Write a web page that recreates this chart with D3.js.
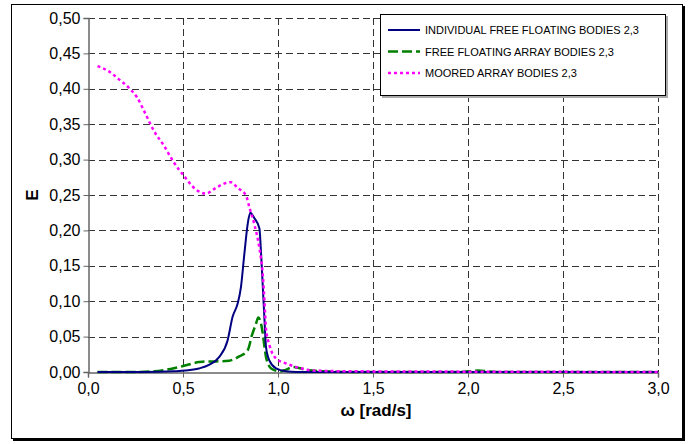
<!DOCTYPE html>
<html>
<head>
<meta charset="utf-8">
<script src="https://cdn.jsdelivr.net/npm/d3@7"></script>
<style>
  body { margin: 0; background: #fff; }
  svg { display: block; font-family: "Liberation Sans", Arial, sans-serif; }
</style>
</head>
<body>
<div id="chart"></div>
<script>
// valori
const xTicks = [0, 0.5, 1.0, 1.5, 2.0, 2.5, 3.0];
const yTicks = [0, 0.05, 0.10, 0.15, 0.20, 0.25, 0.30, 0.35, 0.40, 0.45, 0.50];

const individualW = [0.05, 0.3, 0.45, 0.513, 0.584, 0.637, 0.69, 0.735, 0.761, 0.788, 0.805, 0.823, 0.841, 0.854, 0.876, 0.902, 0.911, 0.92, 0.929, 0.937, 0.955, 0.99, 1.04, 1.1, 1.5, 2.0, 2.5, 3.0];
const individualE = [0, 0, 0.001, 0.002, 0.005, 0.01, 0.021, 0.045, 0.078, 0.097, 0.12, 0.167, 0.21, 0.225, 0.217, 0.203, 0.167, 0.12, 0.073, 0.035, 0.016, 0.005, 0.001, 0, 0, 0, 0, 0];

const arrayW = [0.05, 0.25, 0.35, 0.408, 0.496, 0.584, 0.62, 0.673, 0.743, 0.796, 0.841, 0.863, 0.884, 0.896, 0.911, 0.92, 0.929, 0.937, 0.964, 1.008, 1.04, 1.079, 1.15, 1.238, 1.4, 1.95, 2.05, 2.15, 3.0];
const arrayE = [0, 0, 0.001, 0.003, 0.008, 0.014, 0.015, 0.015, 0.016, 0.022, 0.031, 0.052, 0.068, 0.077, 0.068, 0.054, 0.035, 0.021, 0.005, 0.001, 0.003, 0.007, 0.003, 0.001, 0, 0, 0.002, 0, 0];

const mooredW = [0.05, 0.108, 0.16, 0.213, 0.258, 0.302, 0.346, 0.399, 0.452, 0.505, 0.567, 0.62, 0.673, 0.726, 0.752, 0.788, 0.832, 0.85, 0.876, 0.902, 0.92, 0.929, 0.937, 0.955, 0.99, 1.043, 1.114, 1.185, 1.4, 2.0, 3.0];
const mooredE = [0.432, 0.425, 0.414, 0.402, 0.388, 0.365, 0.341, 0.320, 0.296, 0.277, 0.258, 0.252, 0.260, 0.267, 0.268, 0.260, 0.249, 0.232, 0.208, 0.175, 0.137, 0.099, 0.061, 0.038, 0.019, 0.012, 0.0057, 0.002, 0.001, 0.0005, 0];

const seriesNames = ["INDIVIDUAL FREE FLOATING BODIES 2,3", "FREE FLOATING ARRAY BODIES 2,3", "MOORED ARRAY BODIES 2,3"];

const WIDTH = 691, HEIGHT = 444;
const plot = { left: 88, right: 658, top: 18, bottom: 372 };

const fmt = (d, n) => d.toFixed(n).replace(".", ",");

const svg = d3.select("#chart").append("svg")
    .attr("width", WIDTH).attr("height", HEIGHT);

// cornice esterna con ombra
svg.append("rect").attr("x", 13).attr("y", 6).attr("width", 672).attr("height", 435).attr("fill", "#000");
svg.append("rect").attr("x", 11.5).attr("y", 4.5).attr("width", 671).attr("height", 434)
    .attr("fill", "#fff").attr("stroke", "#000").attr("stroke-width", 1);

const x = d3.scaleLinear().domain([0, 3]).range([plot.left, plot.right]);
const y = d3.scaleLinear().domain([0, 0.5]).range([plot.bottom, plot.top]);

// griglia tratteggiata
const grid = svg.append("g").attr("stroke", "#333").attr("stroke-width", 1).attr("stroke-dasharray", "7,4");
grid.selectAll("line.h").data(yTicks.filter(d => d > 0)).enter().append("line")
    .attr("x1", plot.left).attr("x2", plot.right)
    .attr("y1", d => Math.round(y(d)) + 0.5).attr("y2", d => Math.round(y(d)) + 0.5);
grid.selectAll("line.v").data(xTicks.filter(d => d > 0)).enter().append("line")
    .attr("y1", plot.top).attr("y2", plot.bottom)
    .attr("x1", d => Math.round(x(d)) + 0.5).attr("x2", d => Math.round(x(d)) + 0.5);

// assi
const yAxis = d3.axisLeft(y).tickValues(yTicks).tickFormat(d => fmt(d, 2)).tickSize(5).tickPadding(3);
const xAxis = d3.axisBottom(x).tickValues(xTicks).tickFormat(d => fmt(d, 1)).tickSize(5).tickPadding(5);

const gy = svg.append("g").attr("transform", `translate(${Math.round(plot.left) + 0.5},0)`).call(yAxis);
const gx = svg.append("g").attr("transform", `translate(0,${Math.round(plot.bottom) + 0.5})`).call(xAxis);
[gx, gy].forEach(g => {
    g.select(".domain").attr("stroke", "#666").attr("stroke-width", 1.5);
    g.selectAll(".tick line").attr("stroke", "#666");
    g.selectAll(".tick text").attr("fill", "#000").style("font-size", "16px");
});

svg.append("text").attr("x", 376).attr("y", 416).attr("text-anchor", "middle")
    .style("font-size", "17px").style("font-weight", "bold").text("ω [rad/s]");
svg.append("text").attr("transform", "translate(38,195) rotate(-90)").attr("text-anchor", "middle")
    .style("font-size", "17px").style("font-weight", "bold").text("E");

// curve
const line = d3.line().x(d => x(d[0])).y(d => y(d[1])).curve(d3.curveMonotoneX);
const series = [
    { w: individualW, e: individualE, color: "#000080", dash: null, width: 2 },
    { w: arrayW, e: arrayE, color: "#008000", dash: "10,4", width: 2.5 },
    { w: mooredW, e: mooredE, color: "#ff00ff", dash: "3,3", width: 2.5 }
];
// ordine di disegno: verde, blu, magenta sopra
[1, 0, 2].forEach(i => {
    const s = series[i];
    svg.append("path")
        .datum(d3.zip(s.w, s.e))
        .attr("fill", "none")
        .attr("stroke", s.color)
        .attr("stroke-width", s.width)
        .attr("stroke-dasharray", s.dash)
        .attr("d", line);
});

// legenda
const lg = svg.append("g").attr("transform", "translate(380,14)");
lg.append("rect").attr("x", 2).attr("y", 2).attr("width", 286).attr("height", 82).attr("fill", "#aaa");
lg.append("rect").attr("x", 0.5).attr("y", 0.5).attr("width", 285).attr("height", 81)
    .attr("fill", "#fff").attr("stroke", "#000");
seriesNames.forEach((name, i) => {
    const s = series[i];
    const yy = 16 + i * 21.5;
    lg.append("line").attr("x1", 8).attr("x2", 40).attr("y1", yy).attr("y2", yy)
        .attr("stroke", s.color).attr("stroke-width", s.width).attr("stroke-dasharray", s.dash);
    lg.append("text").attr("x", 45).attr("y", yy + 4).style("font-size", "11px").text(name);
});
</script>
</body>
</html>
